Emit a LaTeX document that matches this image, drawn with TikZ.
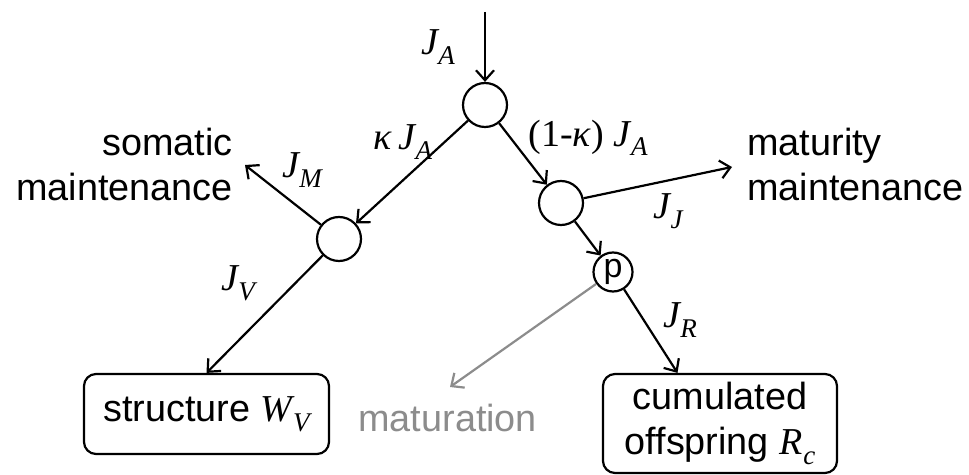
\documentclass[tikz,border=0pt]{standalone}
\usepackage{fontspec}
\setmainfont{Liberation Sans}
\newfontfamily\tnr{Liberation Serif}
\usetikzlibrary{arrows.meta, calc}
\definecolor{InkBlack}{RGB}{0, 0, 0}
\definecolor{MatGray}{RGB}{140, 140, 140}
\newcommand{\sym}[2]{{\fontsize{19}{22}\selectfont\tnr\itshape #1\kern0.3pt\raisebox{-0.55ex}{\fontsize{13.5}{13.5}\selectfont #2}}}

\begin{document}
\begin{tikzpicture}[x=0.5pt, y=-0.5pt,
    junction/.style={draw=InkBlack, line width=1.1pt, circle, minimum size=22pt, inner sep=0pt},
    stock/.style={draw=InkBlack, line width=1.1pt, rounded corners=6pt, align=center, inner sep=0pt, font=\fontsize{18.9}{22.5}\selectfont},
    flow/.style={-{Straight Barb[length=5pt, width=9pt]}, line width=1.1pt, InkBlack},
    word/.style={font=\fontsize{18.9}{22.5}\selectfont, inner sep=0pt},
    lbl/.style={inner sep=0pt}]
    \useasboundingbox (0,0) rectangle (969,475);
    \node[junction] (top) at (485,105) {};
    \node[junction] (lc) at (339,239) {};
    \node[junction] (rc) at (561,203) {};
    \node[junction, minimum size=19.5pt, font=\fontsize{17}{17}\selectfont] (pn) at (613,272) {p};
    \node[stock, minimum width=122.5pt, minimum height=40pt] (struct) at (206.5,414) {structure \sym{W}{V}};
    \node[stock, minimum width=117pt, minimum height=49.5pt] (cum) at (720,423.5) {cumulated\\offspring \sym{R}{c}};
    \node[word, anchor=base east, align=right] (soma) at (233,201) {somatic\\maintenance};
    \node[word, anchor=base west, align=left] (matu) at (747,201) {maturity\\maintenance};
    \node[word, anchor=base west, text=MatGray] (matn) at (358,432) {maturation};
    \node[lbl] (ja) at (438,47) {\sym{J}{A}};
    \node[lbl] (kja) at (403,142) {{\fontsize{19}{22}\selectfont\tnr\itshape κ\kern3pt}\sym{J}{A}};
    \node[lbl] (ojka) at (588,138) {{\fontsize{19}{22}\selectfont\tnr (1-\textit{κ})\ }\sym{J}{A}};
    \node[lbl] (jm) at (302,170) {\sym{J}{M}};
    \node[lbl] (jv) at (238,283) {\sym{J}{V}};
    \node[lbl] (jj) at (668,211) {\sym{J}{J}};
    \node[lbl] (jr) at (680,320) {\sym{J}{R}};
    \coordinate (inflow) at (485,12);
    \coordinate (jmend) at (245,165);
    \coordinate (jjend) at (732,167);
    \coordinate (matend) at (450,387);
    \draw[flow] (inflow) -- (top);
    \draw[flow] (top) -- (lc);
    \draw[flow] (top) -- (rc);
    \draw[flow] (lc) -- (jmend);
    \draw[flow] (lc) -- (struct.north);
    \draw[flow] (rc) -- (jjend);
    \draw[flow] (rc) -- (pn);
    \draw[flow] (pn) -- ($(cum.north west)!0.32!(cum.north east)$);
    \draw[flow, MatGray] (pn) -- (matend);
\end{tikzpicture}
\end{document}
